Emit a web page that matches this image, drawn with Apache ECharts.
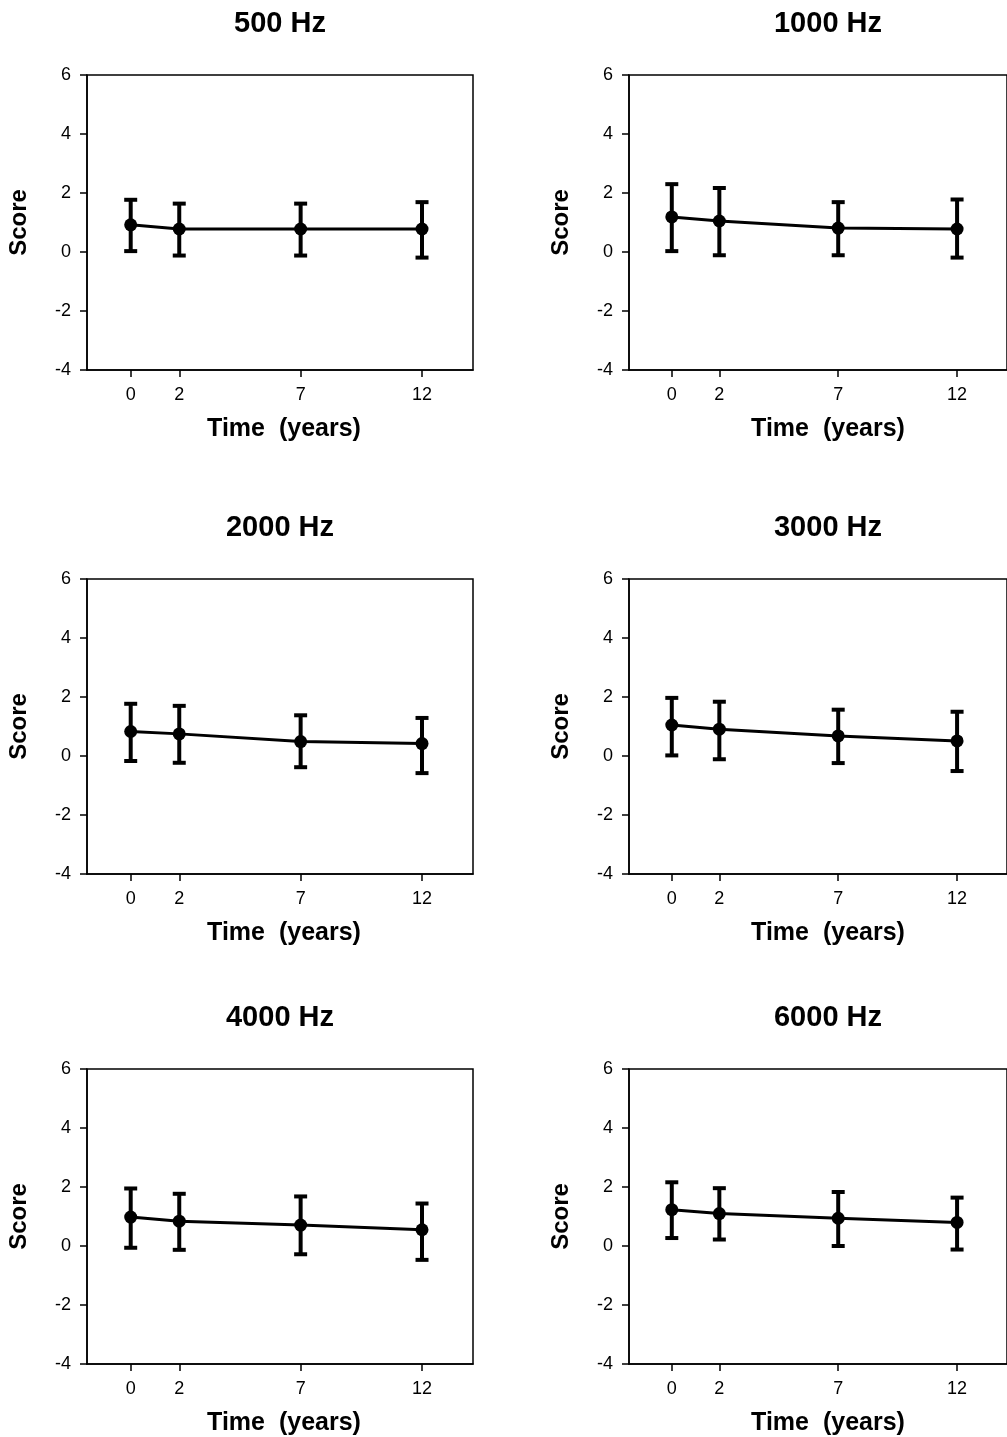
<!DOCTYPE html>
<html>
<head>
<meta charset="utf-8">
<script src="https://cdn.jsdelivr.net/npm/echarts@6/dist/echarts.min.js"></script>
<style>
  html, body { margin: 0; padding: 0; background: #fff; }
  #main { width: 1007px; height: 1437px; }
</style>
</head>
<body>
<div id="main"></div>
<script>
// data
var times = [0, 2, 7, 12];
var timeTicks = [0, 2, 7, 12];
var scoreTicks = [-4, -2, 0, 2, 4, 6];
var panelTitles = ['500 Hz', '1000 Hz', '2000 Hz', '3000 Hz', '4000 Hz', '6000 Hz'];

var mean500 = [0.92, 0.78, 0.78, 0.78];
var upper500 = [1.77, 1.64, 1.64, 1.69];
var lower500 = [0.03, -0.12, -0.12, -0.19];

var mean1000 = [1.19, 1.05, 0.81, 0.78];
var upper1000 = [2.30, 2.17, 1.69, 1.78];
var lower1000 = [0.03, -0.11, -0.11, -0.19];

var mean2000 = [0.83, 0.75, 0.49, 0.42];
var upper2000 = [1.77, 1.70, 1.38, 1.29];
var lower2000 = [-0.17, -0.23, -0.38, -0.58];

var mean3000 = [1.05, 0.91, 0.68, 0.51];
var upper3000 = [1.97, 1.84, 1.57, 1.50];
var lower3000 = [0.02, -0.11, -0.24, -0.51];

var mean4000 = [0.98, 0.84, 0.71, 0.55];
var upper4000 = [1.95, 1.77, 1.68, 1.44];
var lower4000 = [-0.06, -0.13, -0.28, -0.47];

var mean6000 = [1.23, 1.10, 0.94, 0.80];
var upper6000 = [2.16, 1.96, 1.83, 1.64];
var lower6000 = [0.27, 0.22, 0.00, -0.12];

var means = [mean500, mean1000, mean2000, mean3000, mean4000, mean6000];
var uppers = [upper500, upper1000, upper2000, upper3000, upper4000, upper6000];
var lowers = [lower500, lower1000, lower2000, lower3000, lower4000, lower6000];

var FONT = '"Liberation Sans", Arial, sans-serif';
var boxLeft = [87, 629];
var boxTop = [75, 579, 1069];
var boxW = 386, boxH = 295;
var titleShift = [-5, 1];     // nudges so the titles sit where the original has them
var nameShift = [8, 20];

var chart = echarts.init(document.getElementById('main'), null, { renderer: 'canvas' });

var grids = [], xAxes = [], yAxes = [], titles = [], series = [];

for (var i = 0; i < 6; i++) {
    var col = i % 2, row = Math.floor(i / 2);
    grids.push({
        left: boxLeft[col], top: boxTop[row], width: boxW, height: boxH,
        show: true, borderColor: '#000', borderWidth: 1.5, backgroundColor: 'transparent'
    });
    titles.push({
        text: panelTitles[i],
        left: boxLeft[col] + boxW / 2 + titleShift[col], top: boxTop[row] - 71, textAlign: 'center',
        textStyle: { fontFamily: FONT, fontSize: 29, fontWeight: 'bold', color: '#000' }
    });
    xAxes.push({
        type: 'value', gridIndex: i, min: -1.8, max: 14.1,
        name: 'Time  (years)', nameLocation: 'middle', nameGap: 47,
        nameTextStyle: { fontFamily: FONT, fontSize: 25, fontWeight: 'bold', color: '#000', padding: [0, 0, 0, nameShift[col]] },
        axisLine: { show: true, onZero: false, lineStyle: { color: '#000', width: 1.5 } },
        axisTick: { show: true, length: 7, customValues: timeTicks, lineStyle: { color: '#000', width: 1.5 } },
        axisLabel: { customValues: timeTicks, margin: 16, fontFamily: FONT, fontSize: 18, color: '#000' },
        splitLine: { show: false }
    });
    yAxes.push({
        type: 'value', gridIndex: i, min: -4, max: 6, interval: 2,
        name: 'Score', nameLocation: 'middle', nameGap: 56, nameRotate: 90,
        nameTextStyle: { fontFamily: FONT, fontSize: 24, fontWeight: 'bold', color: '#000' },
        axisLine: { show: true, onZero: false, lineStyle: { color: '#000', width: 1.5 } },
        axisTick: { show: true, length: 7, customValues: scoreTicks, lineStyle: { color: '#000', width: 1.5 } },
        axisLabel: { customValues: scoreTicks, margin: 16, fontFamily: FONT, fontSize: 18, color: '#000' },
        splitLine: { show: false }
    });

    var lineData = [], errData = [];
    for (var j = 0; j < times.length; j++) {
        lineData.push([times[j], means[i][j]]);
        errData.push([times[j], lowers[i][j], uppers[i][j]]);
    }

    series.push({
        type: 'custom', xAxisIndex: i, yAxisIndex: i, z: 3,
        data: errData,
        renderItem: function (params, api) {
            var lo = api.coord([api.value(0), api.value(1)]);
            var hi = api.coord([api.value(0), api.value(2)]);
            var cap = 6.5;
            var st = { stroke: '#000', lineWidth: 4 };
            return {
                type: 'group',
                children: [
                    { type: 'line', shape: { x1: lo[0], y1: lo[1], x2: hi[0], y2: hi[1] }, style: st },
                    { type: 'line', shape: { x1: hi[0] - cap, y1: hi[1], x2: hi[0] + cap, y2: hi[1] }, style: st },
                    { type: 'line', shape: { x1: lo[0] - cap, y1: lo[1], x2: lo[0] + cap, y2: lo[1] }, style: st }
                ]
            };
        }
    });
    series.push({
        type: 'line', xAxisIndex: i, yAxisIndex: i, z: 4,
        data: lineData,
        symbol: 'circle', symbolSize: 13,
        lineStyle: { color: '#000', width: 3 },
        itemStyle: { color: '#000' },
        animation: false
    });
}

var option = {
    backgroundColor: '#fff',
    animation: false,
    title: titles,
    grid: grids,
    xAxis: xAxes,
    yAxis: yAxes,
    series: series
};
chart.setOption(option);
</script>
</body>
</html>
